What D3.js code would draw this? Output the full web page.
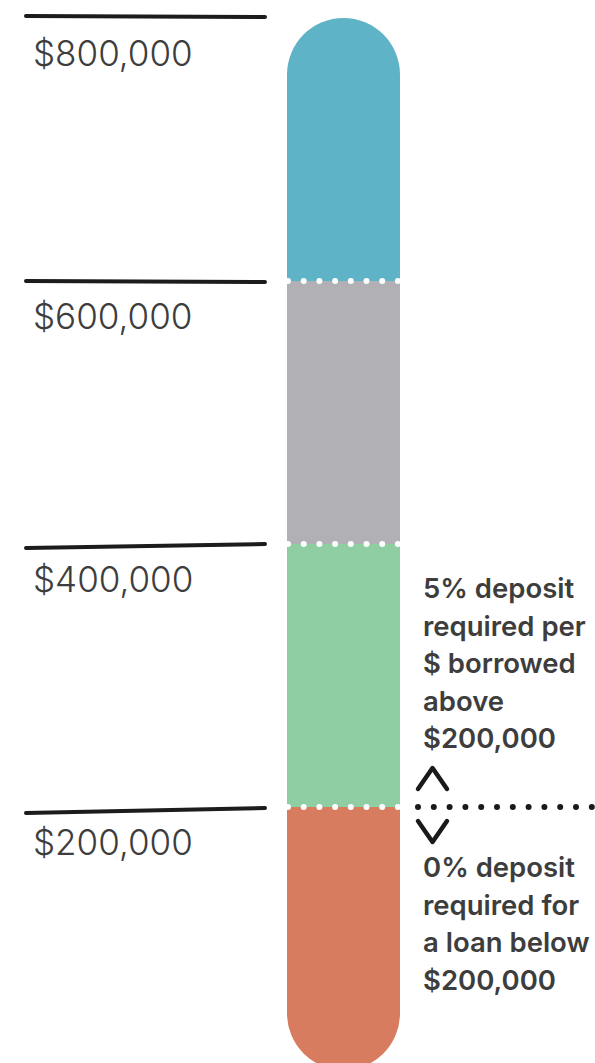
<!DOCTYPE html>
<html>
<head>
<meta charset="utf-8">
<script src="https://cdn.jsdelivr.net/npm/d3@7"></script>
<style>
  body { margin: 0; background: #fff; }
</style>
</head>
<body>
<script>
// loan thresholds and the band for each
const ticks = [200000, 400000, 600000, 800000];
const bands = [
  { from: 0, to: 200000, color: "#d87c5f" },
  { from: 200000, to: 400000, color: "#8ecea2" },
  { from: 400000, to: 600000, color: "#b1b1b5" },
  { from: 600000, to: 800000, color: "#5fb3c6" }
];
const boundaries = [200000, 400000, 600000];
const noteAbove = ["5% deposit", "required per", "$ borrowed", "above", "$200,000"];
const noteBelow = ["0% deposit", "required for", "a loan below", "$200,000"];
// hand drawn tick lines: left / right end wobble
const wobble = [[6, 1], [4, 0], [0, 1], [-2, -1]];

const W = 595, H = 1063;
const fmt = d => "$" + d3.format(",")(d);

const svg = d3.select("body").append("svg")
    .attr("width", W)
    .attr("height", H);

const y = d3.scaleLinear().domain([0, 800000]).range([1070, 18]);

const barX = 287, barW = 113;

svg.append("clipPath").attr("id", "pill")
  .append("rect")
    .attr("x", barX)
    .attr("y", y(800000))
    .attr("width", barW)
    .attr("height", y(0) - y(800000))
    .attr("rx", barW / 2);

svg.append("g").attr("clip-path", "url(#pill)")
  .selectAll("rect")
  .data(bands)
  .join("rect")
    .attr("x", barX)
    .attr("y", d => y(d.to))
    .attr("width", barW)
    .attr("height", d => y(d.from) - y(d.to))
    .attr("fill", d => d.color);

// white dots between bands
svg.append("g").selectAll("line")
  .data(boundaries)
  .join("line")
    .attr("x1", barX + 1)
    .attr("x2", barX + barW)
    .attr("y1", d => y(d))
    .attr("y2", d => y(d))
    .attr("stroke", "#fff")
    .attr("stroke-width", 6)
    .attr("stroke-linecap", "round")
    .attr("stroke-dasharray", "0 15.7");

// tick lines + labels
const tk = svg.append("g").selectAll("g")
  .data(ticks)
  .join("g");

tk.append("path")
    .attr("d", (d, i) => {
      const a = y(d) + wobble[i][0], b = y(d) + wobble[i][1];
      return `M26,${a} Q145,${(a + b) / 2 - 0.5} 265,${b}`;
    })
    .attr("fill", "none")
    .attr("stroke", "#1c1c1c")
    .attr("stroke-width", 4)
    .attr("stroke-linecap", "round");

tk.append("text")
    .attr("x", 33)
    .attr("y", d => y(d) + 48)
    .style("font", "300 35px Inter")
    .attr("fill", "#3d3d3d")
    .text(fmt);

// black dotted threshold line
const yt = y(200000);
svg.append("line")
    .attr("x1", 418).attr("x2", 595)
    .attr("y1", yt).attr("y2", yt)
    .attr("stroke", "#1a1a1a")
    .attr("stroke-width", 6)
    .attr("stroke-linecap", "round")
    .attr("stroke-dasharray", "0 15.8");

// chevrons
svg.append("path")
    .attr("d", `M418,${yt - 18} L432.5,${yt - 39} L447,${yt - 18}`)
    .attr("fill", "none").attr("stroke", "#1a1a1a")
    .attr("stroke-width", 4.5).attr("stroke-linecap", "round").attr("stroke-linejoin", "round");
svg.append("path")
    .attr("d", `M418,${yt + 14} L432.5,${yt + 35} L447,${yt + 14}`)
    .attr("fill", "none").attr("stroke", "#1a1a1a")
    .attr("stroke-width", 4.5).attr("stroke-linecap", "round").attr("stroke-linejoin", "round");

// notes
svg.append("g").selectAll("text")
  .data(noteAbove)
  .join("text")
    .attr("x", 423)
    .attr("y", (d, i) => 598 + i * 37.5)
    .style("font", "600 27.5px Inter")
    .attr("fill", "#3d3d3d")
    .text(d => d);

svg.append("g").selectAll("text")
  .data(noteBelow)
  .join("text")
    .attr("x", 423)
    .attr("y", (d, i) => 877 + i * 37.5)
    .style("font", "600 27.5px Inter")
    .attr("fill", "#3d3d3d")
    .text(d => d);
</script>
</body>
</html>
